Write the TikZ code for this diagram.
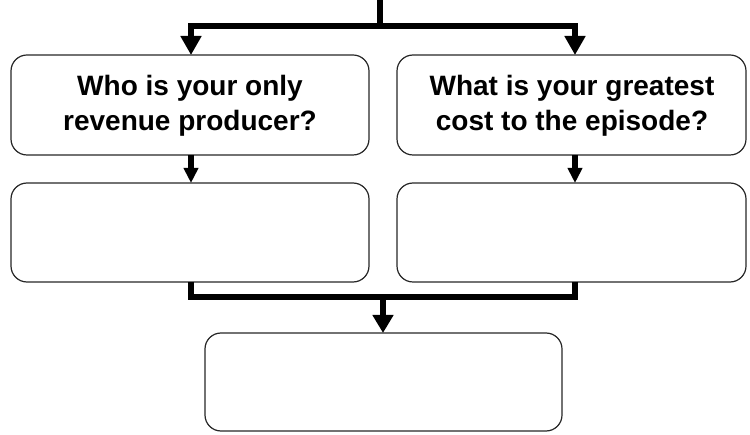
\documentclass[tikz,border=0pt]{standalone}
\usepackage{fontspec}
\setmainfont{Liberation Sans}
\usetikzlibrary{arrows.meta}
\begin{document}
\begin{tikzpicture}[x=1pt,y=-1pt,
  box/.style={draw=black!85,line width=1.2pt,rounded corners=16pt},
  conn/.style={line width=6pt,draw=black},
  tip/.style={-{Triangle[length=19pt,width=20pt]}},
  txt/.style={font=\fontsize{28}{35}\selectfont\bfseries,align=center}]
\useasboundingbox (0,0) rectangle (750,435);
% boxes
\draw[box] (11,55) rectangle (369,155);
\draw[box] (397,55) rectangle (746,155);
\draw[box] (11,183) rectangle (369,282);
\draw[box] (397,183) rectangle (746,282);
\draw[box] (205,333) rectangle (562,431);
\node[txt] (t1) at (190,106) {Who is your only\\revenue producer?};
\node[txt] (t2) at (572,106) {What is your greatest\\cost to the episode?};
\coordinate (b1t) at (191,55);
\coordinate (b2t) at (575,55);
\coordinate (b1b) at (191,155);
\coordinate (b2b) at (575,155);
\coordinate (b3t) at (191,183);
\coordinate (b4t) at (575,183);
\coordinate (b3b) at (191,282);
\coordinate (b4b) at (575,282);
\coordinate (b5t) at (383,333);
\coordinate (top) at (380,0);
\coordinate (hj) at (380,26);
\coordinate (bj) at (383,297);
% top connectors
\draw[conn] (top) -- (hj);
\draw[conn,tip] (hj) -| (b1t);
\draw[conn,tip] (hj) -| (b2t);
% middle
\draw[conn,-{Triangle[length=15pt,width=14pt]}] (b1b) -- (b3t);
\draw[conn,-{Triangle[length=15pt,width=14pt]}] (b2b) -- (b4t);
% bottom
\draw[conn] (b3b) |- (bj);
\draw[conn] (b4b) |- (bj);
\draw[conn,-{Triangle[length=18pt,width=20pt]}] (bj) -- (b5t);
\end{tikzpicture}
\end{document}
